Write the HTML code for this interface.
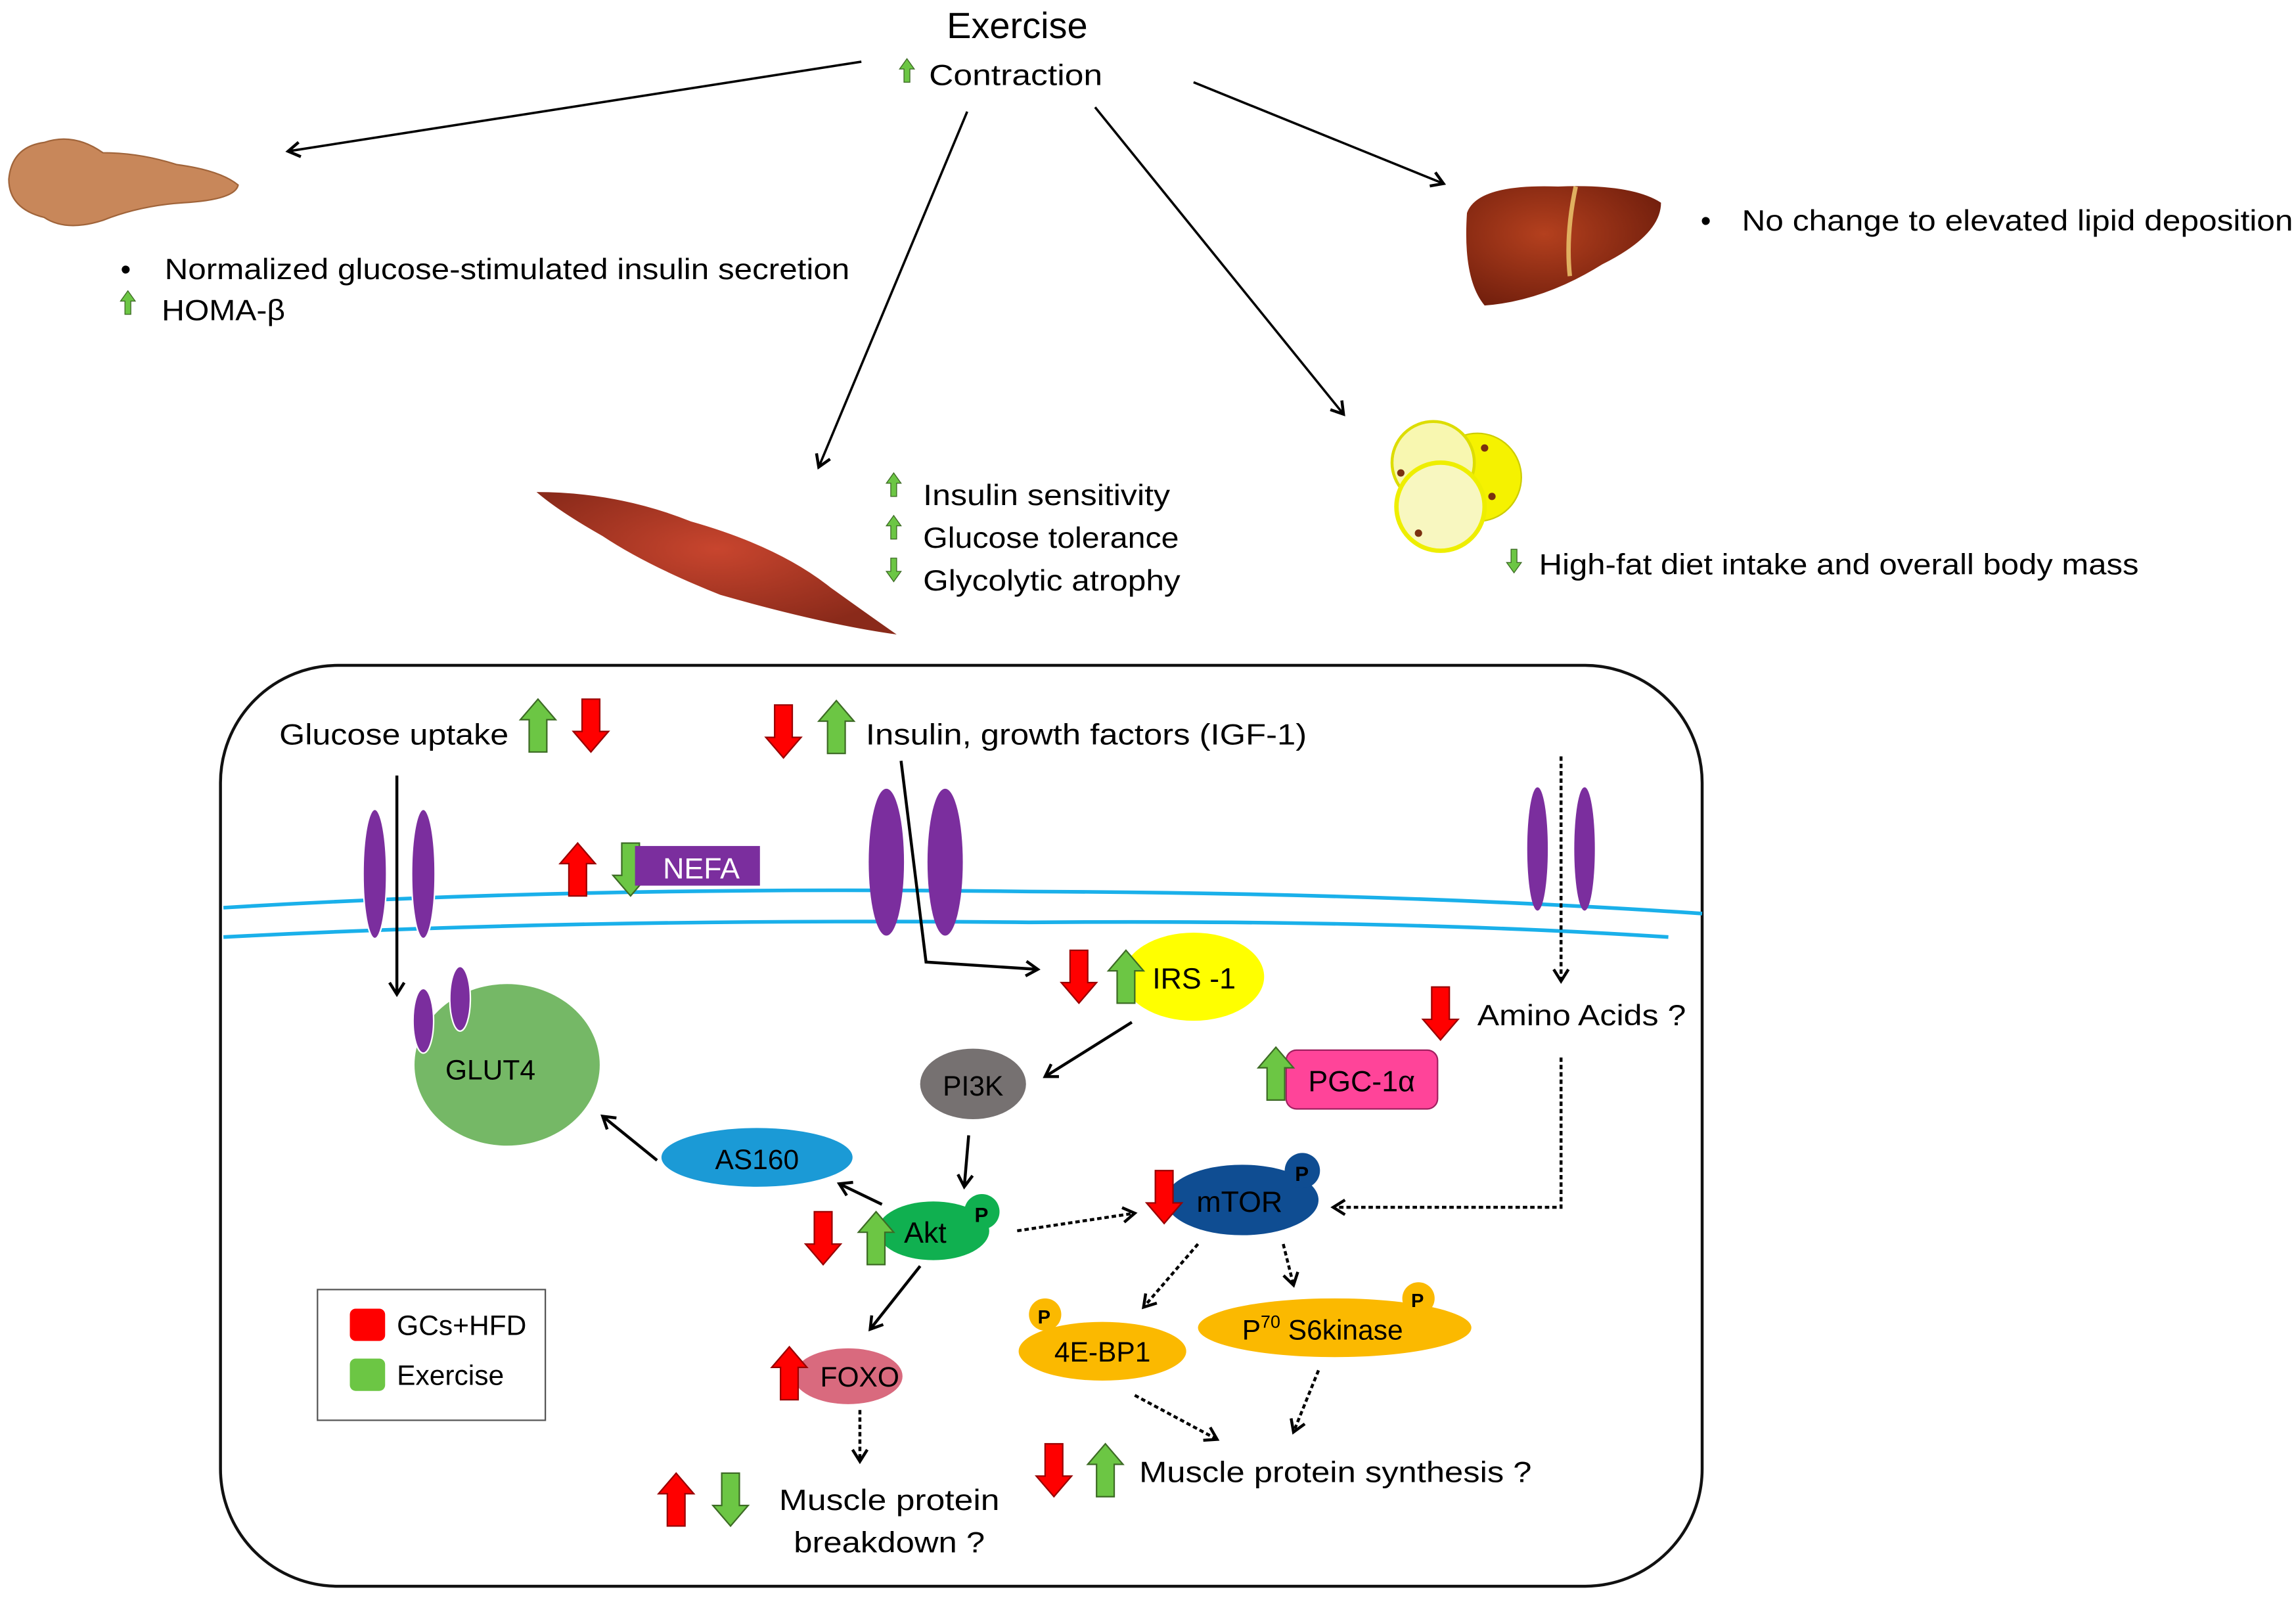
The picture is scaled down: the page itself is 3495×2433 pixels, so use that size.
<!DOCTYPE html>
<html><head><meta charset="utf-8"><style>
html,body{margin:0;padding:0;background:#fff;}
svg{display:block;}
text{font-family:"Liberation Sans",sans-serif;fill:#000;}
</style></head><body>
<svg width="3495" height="2433" viewBox="0 0 1562 1088" preserveAspectRatio="none" xmlns="http://www.w3.org/2000/svg">
<defs>
<marker id="ah" markerWidth="12" markerHeight="12" refX="9" refY="6" orient="auto" markerUnits="userSpaceOnUse"><path d="M1,1 L9,6 L1,11" fill="none" stroke="#000" stroke-width="2"/></marker>
<g id="gu"><polygon points="12,0 24,14 18,14 18,36 6,36 6,14 0,14" fill="#6cc644" stroke="#3d6b25" stroke-width="1"/></g>
<g id="gd"><polygon points="6,0 18,0 18,22 24,22 12,36 0,22 6,22" fill="#6cc644" stroke="#3d6b25" stroke-width="1"/></g>
<g id="ru"><polygon points="12,0 24,14 18,14 18,36 6,36 6,14 0,14" fill="#f00" stroke="#900" stroke-width="1"/></g>
<g id="rd"><polygon points="6,0 18,0 18,22 24,22 12,36 0,22 6,22" fill="#f00" stroke="#900" stroke-width="1"/></g>
<g id="su"><polygon points="5,0 10,7 7,7 7,16 3,16 3,7 0,7" fill="#6cc644" stroke="#3d6b25" stroke-width="0.6"/></g>
<g id="sd"><polygon points="3,0 7,0 7,9 10,9 5,16 0,9 3,9" fill="#6cc644" stroke="#3d6b25" stroke-width="0.6"/></g>
<radialGradient id="mg" cx="0.5" cy="0.4" r="0.6"><stop offset="0" stop-color="#c8452e"/><stop offset="1" stop-color="#8a2a1a"/></radialGradient>
<radialGradient id="lg" cx="0.4" cy="0.4" r="0.7"><stop offset="0" stop-color="#b4401e"/><stop offset="1" stop-color="#6e1d0c"/></radialGradient>
</defs>

<text x="692" y="26" font-size="25" text-anchor="middle">Exercise</text>
<use href="#su" x="612" y="40"/>
<text x="632" y="58" font-size="20" textLength="118" lengthAdjust="spacingAndGlyphs">Contraction</text>

<line x1="586" y1="42" x2="196" y2="103" stroke="#000" stroke-width="1.6" marker-end="url(#ah)"/>
<line x1="658" y1="76" x2="557" y2="318" stroke="#000" stroke-width="1.6" marker-end="url(#ah)"/>
<line x1="745" y1="73" x2="914" y2="282" stroke="#000" stroke-width="1.6" marker-end="url(#ah)"/>
<line x1="812" y1="56" x2="982" y2="125" stroke="#000" stroke-width="1.6" marker-end="url(#ah)"/>

<path d="M6,122 Q8,100 30,97 Q50,90 70,104 Q95,104 120,112 Q150,116 162,126 Q160,136 125,138 Q95,140 70,150 Q45,158 30,148 Q6,142 6,122Z" fill="#c8875a" stroke="#a0643a" stroke-width="1"/>
<text x="82" y="190" font-size="20">•</text>
<text x="112" y="190" font-size="20" textLength="466" lengthAdjust="spacingAndGlyphs">Normalized glucose-stimulated insulin secretion</text>
<use href="#su" x="82" y="198"/>
<text x="110" y="218" font-size="20" textLength="84" lengthAdjust="spacingAndGlyphs">HOMA-β</text>

<path d="M998,145 Q1005,125 1060,127 Q1110,125 1130,138 Q1130,160 1090,180 Q1050,205 1010,208 Q995,190 998,145Z" fill="url(#lg)"/>
<path d="M1072,127 Q1065,160 1068,188" stroke="#e0b060" stroke-width="3" fill="none"/>
<text x="1157" y="157" font-size="20">•</text>
<text x="1185" y="157" font-size="20" textLength="375" lengthAdjust="spacingAndGlyphs">No change to elevated lipid deposition</text>

<path d="M365,335 Q420,335 470,355 Q530,372 565,400 Q590,418 610,432 Q560,425 490,405 Q440,385 410,365 Q380,348 365,335Z" fill="url(#mg)"/>
<use href="#su" x="603" y="322"/>
<text x="628" y="344" font-size="20" textLength="168" lengthAdjust="spacingAndGlyphs">Insulin sensitivity</text>
<use href="#su" x="603" y="351"/>
<text x="628" y="373" font-size="20" textLength="174" lengthAdjust="spacingAndGlyphs">Glucose tolerance</text>
<use href="#sd" x="603" y="380"/>
<text x="628" y="402" font-size="20" textLength="175" lengthAdjust="spacingAndGlyphs">Glycolytic atrophy</text>

<circle cx="1005" cy="325" r="30" fill="#f5f200" stroke="#cc0" stroke-width="1"/>
<circle cx="975" cy="315" r="28" fill="#f8f7b0" stroke="#dd0" stroke-width="2"/>
<circle cx="980" cy="345" r="30" fill="#f8f7c0" stroke="#ee0" stroke-width="3"/>
<circle cx="953" cy="322" r="2.5" fill="#7a3010"/><circle cx="965" cy="363" r="2.5" fill="#7a3010"/><circle cx="1015" cy="338" r="2.5" fill="#7a3010"/><circle cx="1010" cy="305" r="2.5" fill="#7a3010"/>
<use href="#sd" x="1025" y="374"/>
<text x="1047" y="391" font-size="20" textLength="408" lengthAdjust="spacingAndGlyphs">High-fat diet intake and overall body mass</text>

<rect x="150" y="453" width="1008" height="627" rx="80" fill="none" stroke="#111" stroke-width="2"/>
<path d="M152,618 Q400,603 700,607 Q950,608 1158,622" fill="none" stroke="#1ab0ea" stroke-width="2.5"/>
<path d="M152,638 Q400,625 700,628 Q950,626 1135,638" fill="none" stroke="#1ab0ea" stroke-width="2.5"/>

<ellipse cx="255" cy="595" rx="8" ry="44" fill="#7b2e9e" stroke="#fff" stroke-width="1"/>
<ellipse cx="288" cy="595" rx="8" ry="44" fill="#7b2e9e" stroke="#fff" stroke-width="1"/>
<ellipse cx="603" cy="587" rx="12" ry="50" fill="#7b2e9e"/>
<ellipse cx="643" cy="587" rx="12" ry="50" fill="#7b2e9e"/>
<ellipse cx="1046" cy="578" rx="7" ry="42" fill="#7b2e9e"/>
<ellipse cx="1078" cy="578" rx="7" ry="42" fill="#7b2e9e"/>

<text x="190" y="507" font-size="20" textLength="156" lengthAdjust="spacingAndGlyphs">Glucose uptake</text>
<use href="#gu" x="354" y="476"/><use href="#rd" x="390" y="476"/>
<use href="#rd" x="521" y="480"/><use href="#gu" x="557" y="477"/>
<text x="589" y="507" font-size="20" textLength="300" lengthAdjust="spacingAndGlyphs">Insulin, growth factors (IGF-1)</text>

<use href="#ru" x="381" y="574"/><use href="#gd" x="417" y="574"/>
<rect x="432" y="576" width="85" height="27" fill="#7b2e9e"/>
<text x="451" y="598" font-size="20" style="fill:#fff">NEFA</text>

<line x1="270" y1="528" x2="270" y2="677" stroke="#000" stroke-width="2" marker-end="url(#ah)"/>
<ellipse cx="345" cy="725" rx="63" ry="55" fill="#75b866"/>
<ellipse cx="288" cy="695" rx="7" ry="22" fill="#7b2e9e" stroke="#fff"/>
<ellipse cx="313" cy="680" rx="7" ry="22" fill="#7b2e9e" stroke="#fff"/>
<text x="303" y="735" font-size="19">GLUT4</text>

<polyline points="613,518 630,655 706,660" fill="none" stroke="#000" stroke-width="2" marker-end="url(#ah)"/>
<ellipse cx="812" cy="665" rx="48" ry="30" fill="#ff0"/>
<use href="#rd" x="722" y="647"/><use href="#gu" x="754" y="647"/>
<text x="784" y="673" font-size="20">IRS -1</text>

<line x1="770" y1="696" x2="711" y2="733" stroke="#000" stroke-width="2" marker-end="url(#ah)"/>
<ellipse cx="662" cy="738" rx="36" ry="24" fill="#767171"/>
<text x="662" y="746" font-size="19" text-anchor="middle">PI3K</text>
<line x1="659" y1="773" x2="656" y2="808" stroke="#000" stroke-width="2" marker-end="url(#ah)"/>

<line x1="1062" y1="515" x2="1062" y2="668" stroke="#000" stroke-width="2" stroke-dasharray="3,2" marker-end="url(#ah)"/>
<use href="#rd" x="968" y="672"/>
<text x="1005" y="698" font-size="20" textLength="142" lengthAdjust="spacingAndGlyphs">Amino Acids ?</text>
<polyline points="1062,720 1062,822 907,822" fill="none" stroke="#000" stroke-width="2" stroke-dasharray="3,2" marker-end="url(#ah)"/>

<rect x="875" y="715" width="103" height="40" rx="7" fill="#ff4499" stroke="#a02060" stroke-width="1"/>
<use href="#gu" x="856" y="713"/>
<text x="890" y="743" font-size="20">PGC-1α</text>

<ellipse cx="515" cy="788" rx="65" ry="20" fill="#1b9ad6"/>
<text x="515" y="796" font-size="19" text-anchor="middle">AS160</text>
<line x1="447" y1="790" x2="410" y2="760" stroke="#000" stroke-width="2" marker-end="url(#ah)"/>

<ellipse cx="635" cy="838" rx="38" ry="20" fill="#10b050"/>
<circle cx="668" cy="825" r="12" fill="#10b050"/>
<text x="663" y="832" font-size="14" font-weight="bold">P</text>
<use href="#rd" x="548" y="825"/><use href="#gu" x="584" y="825"/>
<text x="615" y="846" font-size="20">Akt</text>
<line x1="600" y1="820" x2="571" y2="806" stroke="#000" stroke-width="2" marker-end="url(#ah)"/>
<line x1="692" y1="838" x2="772" y2="826" stroke="#000" stroke-width="2" stroke-dasharray="3,2" marker-end="url(#ah)"/>
<line x1="626" y1="862" x2="592" y2="905" stroke="#000" stroke-width="2" marker-end="url(#ah)"/>

<ellipse cx="845" cy="817" rx="52" ry="24" fill="#0f4d92"/>
<circle cx="886" cy="797" r="12" fill="#0f4d92"/>
<text x="881" y="804" font-size="14" font-weight="bold">P</text>
<use href="#rd" x="780" y="797"/>
<text x="814" y="825" font-size="20">mTOR</text>
<line x1="815" y1="847" x2="778" y2="890" stroke="#000" stroke-width="2" stroke-dasharray="3,2" marker-end="url(#ah)"/>
<line x1="873" y1="847" x2="880" y2="875" stroke="#000" stroke-width="2" stroke-dasharray="3,2" marker-end="url(#ah)"/>

<ellipse cx="750" cy="920" rx="57" ry="20" fill="#fbb900"/>
<circle cx="711" cy="895" r="11" fill="#fbb900"/>
<text x="706" y="901" font-size="13" font-weight="bold">P</text>
<text x="750" y="927" font-size="19" text-anchor="middle">4E-BP1</text>
<ellipse cx="908" cy="904" rx="93" ry="20" fill="#fbb900"/>
<circle cx="965" cy="884" r="11" fill="#fbb900"/>
<text x="960" y="890" font-size="13" font-weight="bold">P</text>
<text x="845" y="912" font-size="19">P<tspan font-size="12" dy="-8">70</tspan><tspan dy="8"> S6kinase</tspan></text>
<line x1="772" y1="950" x2="828" y2="980" stroke="#000" stroke-width="2" stroke-dasharray="3,2" marker-end="url(#ah)"/>
<line x1="897" y1="933" x2="880" y2="975" stroke="#000" stroke-width="2" stroke-dasharray="3,2" marker-end="url(#ah)"/>

<ellipse cx="577" cy="937" rx="37" ry="19" fill="#d96a7e"/>
<use href="#ru" x="525" y="917"/>
<text x="558" y="944" font-size="19">FOXO</text>
<line x1="585" y1="960" x2="585" y2="995" stroke="#000" stroke-width="2" stroke-dasharray="3,2" marker-end="url(#ah)"/>

<use href="#ru" x="448" y="1003"/><use href="#gd" x="485" y="1003"/>
<text x="530" y="1028" font-size="20" textLength="150" lengthAdjust="spacingAndGlyphs">Muscle protein</text>
<text x="540" y="1057" font-size="20" textLength="130" lengthAdjust="spacingAndGlyphs">breakdown ?</text>

<use href="#rd" x="705" y="983"/><use href="#gu" x="740" y="983"/>
<text x="775" y="1009" font-size="20" textLength="267" lengthAdjust="spacingAndGlyphs">Muscle protein synthesis ?</text>

<rect x="216" y="878" width="155" height="89" fill="#fff" stroke="#555" stroke-width="1"/>
<rect x="238" y="891" width="24" height="22" rx="4" fill="#f00"/>
<text x="270" y="909" font-size="19">GCs+HFD</text>
<rect x="238" y="925" width="24" height="22" rx="4" fill="#6cc644"/>
<text x="270" y="943" font-size="19">Exercise</text>
</svg>
</body></html>
